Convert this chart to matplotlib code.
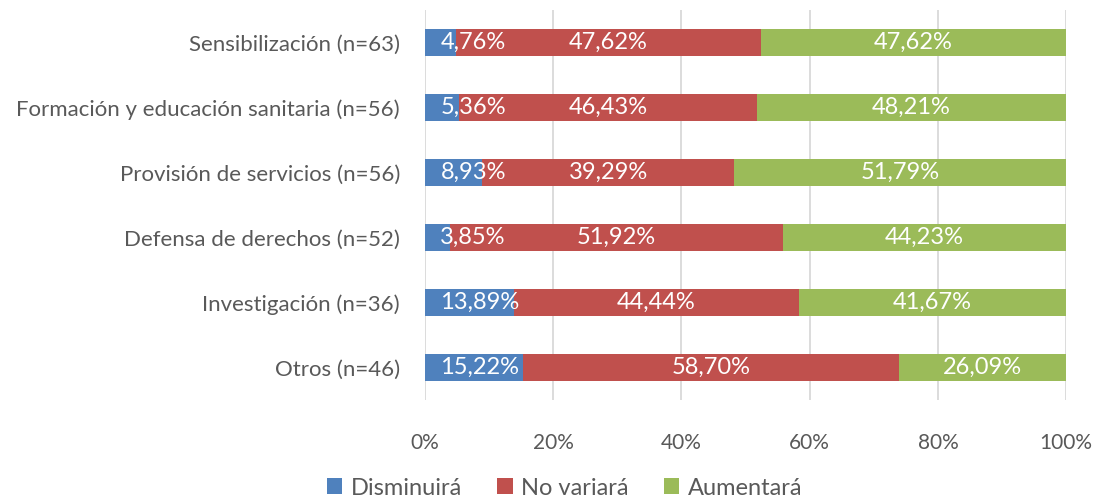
import matplotlib as mpl
import matplotlib.pyplot as plt
import numpy as np

mpl.use('Agg')
plt.rcParams['font.family'] = ['Lato', 'DejaVu Sans']

categories = ["Sensibilización (n=63)",
              "Formación y educación sanitaria (n=56)",
              "Provisión de servicios (n=56)",
              "Defensa de derechos (n=52)",
              "Investigación (n=36)",
              "Otros (n=46)"]
disminuira = [4.76, 5.36, 8.93, 3.85, 13.89, 15.22]
no_variara = [47.62, 46.43, 39.29, 51.92, 44.44, 58.70]
aumentara = [47.62, 48.21, 51.79, 44.23, 41.67, 26.09]
series_names = ["Disminuirá", "No variará", "Aumentará"]
colors = ["#4F81BD", "#C0504D", "#9BBB59"]

fig = plt.figure(figsize=(10.94, 4.98), dpi=100)
ax = fig.add_axes([0.3885, 0.197, 0.586, 0.783])

y = np.arange(len(categories))[::-1]
left = np.zeros(len(categories))
labels = []
for i, (vals, name, col) in enumerate(zip([disminuira, no_variara, aumentara], series_names, colors)):
    vals = np.array(vals)
    ax.barh(y, vals, left=left, height=0.41, color=col, label=name, zorder=3)
    for yi, l, v in zip(y, left, vals):
        txt = f"{v:.2f}%".replace(".", ",")
        if i == 0:
            # first segment labels are pushed inside the plot area
            labels.append((2.4, yi, txt, "left"))
        else:
            labels.append((l + v / 2, yi, txt, "center"))
    left = left + vals

for x, yi, txt, ha in labels:
    ax.text(x, yi, txt, ha=ha, va="center", color="white", fontsize=17, zorder=5)

ax.set_xlim(0, 100)
ax.set_ylim(-0.5, len(categories) - 0.5)
ax.set_xticks([0, 20, 40, 60, 80, 100])
ax.set_xticklabels([f"{t}%" for t in [0, 20, 40, 60, 80, 100]])
ax.set_yticks(y)
ax.set_yticklabels(categories, fontsize=16)
ax.tick_params(axis="both", length=0, colors="#595959")
ax.tick_params(axis="x", labelsize=15, pad=24)
ax.tick_params(axis="y", pad=18)
ax.grid(axis="x", color="#D9D9D9", linewidth=1.3, zorder=0)
for s in ax.spines.values():
    s.set_visible(False)

leg = fig.legend(loc="center", bbox_to_anchor=(0.516, 0.02), ncol=3, frameon=False,
                 fontsize=17, handlelength=0.65, handleheight=0.65, columnspacing=1.5,
                 handletextpad=0.35, borderaxespad=0)
for t in leg.get_texts():
    t.set_color("#595959")

fig.savefig("out.png", dpi=100)
